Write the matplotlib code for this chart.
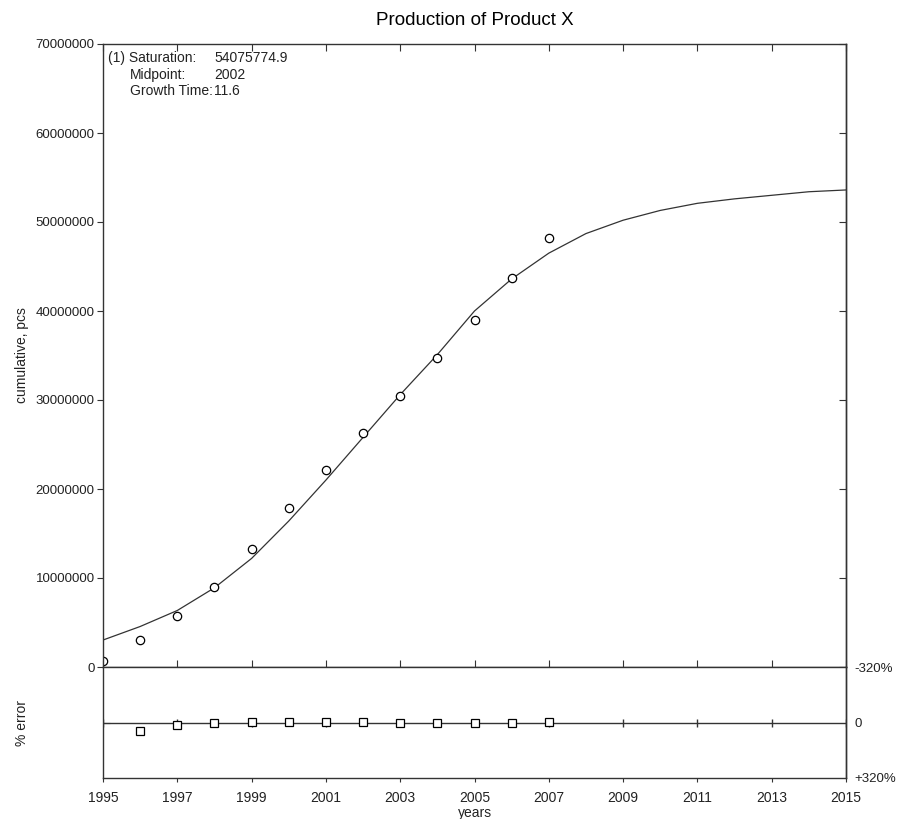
import numpy as np
import matplotlib
matplotlib.use("Agg")
import matplotlib.pyplot as plt

plt.rcParams['font.family'] = ['Liberation Sans', 'DejaVu Sans']

# observed cumulative production (pcs)
years = [1995, 1996, 1997, 1998, 1999, 2000, 2001, 2002, 2003, 2004, 2005, 2006, 2007]
cumulative = [0.7e6, 3.03e6, 5.73e6, 9.0e6, 13.26e6, 17.87e6, 22.13e6, 26.3e6,
              30.45e6, 34.7e6, 39.0e6, 43.7e6, 48.2e6]

# fitted curve
curve_years = list(range(1995, 2016))
curve_values = [3.03e6, 4.55e6, 6.35e6, 8.9e6, 12.2e6, 16.4e6, 21.0e6, 25.8e6,
                30.6e6, 35.1e6, 40.0e6, 43.6e6, 46.5e6, 48.7e6, 50.2e6, 51.3e6,
                52.1e6, 52.6e6, 53.0e6, 53.4e6, 53.6e6]

# percentage error (positive = below the zero line)
err_years = [1996, 1997, 1998, 1999, 2000, 2001, 2002, 2003, 2004, 2005, 2006, 2007]
err_pct = [50, 15, 1, -4, -4, -4, -1, 0, 4, 4, 1, -4]

xticks = list(range(1995, 2016, 2))
yticks = list(range(0, 70000001, 10000000))

W, H = 897, 819
fig = plt.figure(figsize=(W / 100, H / 100), dpi=100)

def box(x0, y0, x1, y1):
    return [x0 / W, 1 - y1 / H, (x1 - x0) / W, (y1 - y0) / H]

ink = '#222222'
edge = '#333333'
ax = fig.add_axes(box(103, 44, 846, 667))
ax.plot(curve_years, curve_values, color=edge, lw=0.9)
ax.plot(years, cumulative, 'o', mfc='white', mec='black', ms=6, mew=0.9)
ax.set_xlim(1995, 2015)
ax.set_ylim(0, 70000000)
ax.set_xticks(xticks)
ax.set_xticklabels([])
ax.set_yticks(yticks)
ax.set_yticklabels([str(v) for v in yticks], fontsize=9.5, color=ink)
ax.tick_params(axis='x', direction='in', top=True, bottom=True, length=5, color=edge)
ax.tick_params(axis='y', direction='out', left=True, length=4, pad=2, color=edge)
ax2 = ax.secondary_yaxis('right')
ax2.set_yticks(yticks)
ax2.set_yticklabels([])
ax2.tick_params(direction='in', length=5, color=edge)
for s in list(ax.spines.values()) + list(ax2.spines.values()):
    s.set_color(edge)
    s.set_linewidth(1)
ax.set_ylabel('cumulative, pcs', fontsize=10, color=ink)
ax.yaxis.set_label_coords(-0.1, 0.5)
ax.set_title('Production of Product X', fontsize=13.5, color='black', pad=14)

t = dict(fontsize=10, color=ink, transform=ax.transAxes, va='center')
def px(x, y):
    return ((x - 103) / 743, (667 - y) / 623)
ax.text(*px(108, 58), '(1) Saturation:', **t)
ax.text(*px(130, 75), 'Midpoint:', **t)
ax.text(*px(130, 91), 'Growth Time:', **t)
ax.text(*px(214, 58), '54075774.9', **t)
ax.text(*px(214, 75), '2002', **t)
ax.text(*px(214, 91), '11.6', **t)

# error panel
ex = fig.add_axes(box(103, 667, 846, 778))
ex.axhline(0, color=edge, lw=1)
ex.plot(xticks, [0] * len(xticks), '|', color=edge, ms=6, mew=1)
ex.plot(err_years, err_pct, 's', mfc='white', mec='black', ms=6, mew=0.9)
ex.set_xlim(1995, 2015)
ex.set_ylim(320, -320)
ex.set_xticks(xticks)
ex.set_xticklabels([str(v) for v in xticks], fontsize=10, color=ink)
ex.tick_params(axis='x', direction='out', top=False, bottom=True, length=3,
               color=edge, pad=6)
ex.set_yticks([0])
ex.set_yticklabels([])
ex.tick_params(axis='y', direction='in', left=True, length=5, color=edge)
er = ex.secondary_yaxis('right')
er.set_yticks([-320, 0, 320])
er.set_yticklabels(['-320%', '0', '+320%'], fontsize=9.5, color=ink)
er.tick_params(length=0, pad=6)
for s in list(ex.spines.values()) + list(er.spines.values()):
    s.set_color(edge)
    s.set_linewidth(1)
ex.set_ylabel('% error', fontsize=10, color=ink)
ex.yaxis.set_label_coords(-0.1, 0.5)
ex.set_xlabel('years', fontsize=10, color=ink, labelpad=1)

fig.savefig('out.png', dpi=100)
